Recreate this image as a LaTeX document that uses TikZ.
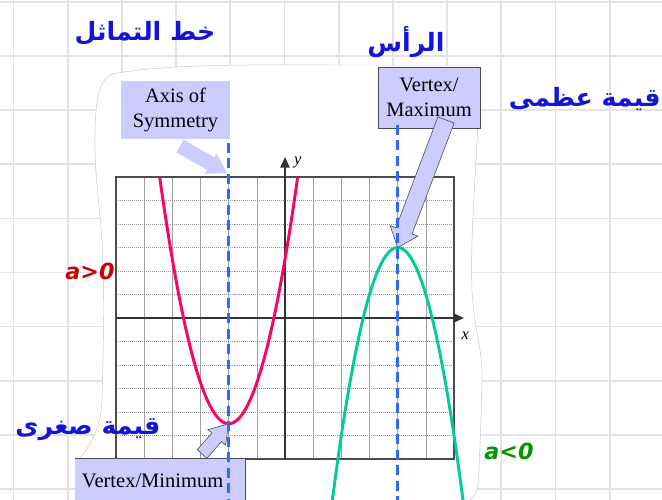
\documentclass[tikz,border=0pt]{standalone}
\usepackage{fontspec}
\setmainfont{Liberation Serif}
\newfontfamily\arabicfont[Script=Arabic]{DejaVu Sans}
\newfontfamily\handfont{DejaVu Sans}
\TeXXeTstate=1
\usetikzlibrary{calc,arrows.meta}

\definecolor{lav}{RGB}{204,204,255}
\definecolor{symblue}{RGB}{51,102,255}
\definecolor{upred}{RGB}{255,0,102}
\definecolor{downgreen}{RGB}{0,204,153}
\definecolor{arblue}{RGB}{20,20,215}
\definecolor{handred}{RGB}{200,0,0}
\definecolor{handgreen}{RGB}{0,150,0}

% #1 style, #2 tail, #3 tip, #4 shaft half width, #5 head half width, #6 head length
\newcommand{\fatarrow}[6]{%
  \coordinate (fa-h) at ($(#3)!#6!(#2)$);
  \path[#1] ($(#2)!#4!90:(#3)$) -- ($(fa-h)!#4!-90:(#2)$) -- ($(fa-h)!#5!-90:(#2)$)
    -- (#3) -- ($(fa-h)!#5!90:(#2)$) -- ($(fa-h)!#4!90:(#2)$)
    -- ($(#2)!#4!-90:(#3)$) -- cycle;}

\begin{document}
\begin{tikzpicture}[x=0.03cm,y=-0.03cm,
  bggrid/.style={line width=1.4pt,gray!22},
  paper/.style={fill=white,draw=gray!45,line width=0.4pt},
  gridv/.style={gray!75,line width=0.5pt},
  gridh/.style={gray!85,line width=0.6pt,dash pattern=on 0.8pt off 0.9pt},
  frame/.style={black!70,line width=1pt},
  axis/.style={black!80,line width=1pt,-{Triangle[length=9pt,width=8pt]}},
  callout/.style={fill=lav,font=\fontsize{17.5}{21}\selectfont,align=center,inner sep=0pt},
  fatfill/.style={fill=lav,draw=black!70,line width=0.5pt},
  symline/.style={symblue,line width=2.6pt,dash pattern=on 8.5pt off 4.7pt},
  upcurve/.style={upred,line width=2.5pt},
  downcurve/.style={downgreen,line width=2.5pt},
  arlabel/.style={text=arblue,font=\arabicfont\bfseries\fontsize{21.5}{25}\selectfont},
  hand/.style={font=\handfont\bfseries\itshape\fontsize{19}{22}\selectfont}]
  \useasboundingbox (0,0) rectangle (662,500);

  \foreach \k in {0,...,12}
    \draw[bggrid] ({13.5+54.2*\k},0) -- ({13.5+54.2*\k},500);
  \foreach \k in {0,...,9}
    \draw[bggrid] (0,{2+54.1*\k}) -- (662,{2+54.1*\k});

  \path[paper] (112,74) .. controls (150,67) and (200,64) .. (331,65)
    -- (476,65) .. controls (481,68) and (480,90) .. (479,100)
    .. controls (477,160) and (470,230) .. (472,290)
    .. controls (474,330) and (483,350) .. (482,380)
    .. controls (481,430) and (479,470) .. (478,485)
    .. controls (477,495) and (470,500) .. (465,503)
    -- (75,503) -- (76,462)
    .. controls (88,450) and (101,430) .. (102,400)
    .. controls (104,330) and (104,280) .. (102,240)
    .. controls (99,200) and (94,170) .. (95,130)
    .. controls (96,95) and (100,80) .. (112,74) -- cycle;

  \begin{scope}[shift={(285,318)},x=0.845cm,y=0.705cm]
    \foreach \i in {-5,...,5}
      \draw[gridv] (\i,-6) -- (\i,6);
    \foreach \j in {-5,...,5}
      \draw[gridh] (-6,\j) -- (6,\j);
    \draw[frame] (-6,-6) rectangle (6,6);
    \draw[axis] (-6,0) -- (6.35,0);
    \draw[axis] (0,-6) -- (0,6.85);
    \node[font=\itshape\fontsize{14}{16}\selectfont] (xlabel) at (6.4,-0.75) {x};
    \node[font=\itshape\fontsize{14}{16}\selectfont] (ylabel) at (0.45,6.6) {y};

    \draw[upcurve] plot[domain=-4.45:0.45,samples=80] (\x,{1.75*(\x+2)^2-4.5});
    \draw[downcurve] plot[domain=1.62:6.38,samples=80] (\x,{-2*(\x-4)^2+3});

    \coordinate (minv) at (-2,-4.5);
    \coordinate (maxv) at (4,3);
  \end{scope}

  \node[callout,minimum width=3.27cm,minimum height=1.74cm] (axisbox) at (175.5,110)
    {Axis of\\Symmetry};
  \node[callout,draw=black!70,line width=0.5pt,minimum width=3.06cm,minimum height=1.83cm]
    (maxbox) at (429,97.5) {Vertex/\\Maximum};
  \node[callout,minimum width=5.1cm,minimum height=1.32cm,text width=4.68cm,align=left]
    (minbox) at (160,481) {Vertex/Minimum};
  \draw[black!70,line width=0.6pt] (minbox.north west) -- (minbox.north east)
    -- (minbox.south east);

  \coordinate (axistail) at (180,146);
  \coordinate (axistip) at (227,173);
  \coordinate (maxtail) at (446,120);
  \coordinate (mintail) at (202,454);
  \fatarrow{fill=lav}{axistail}{axistip}{6.2pt}{10pt}{16pt}
  \fatarrow{fatfill}{maxtail}{maxv}{7.4pt}{12.7pt}{15.2pt}
  \fatarrow{fatfill}{mintail}{minv}{5.5pt}{10pt}{15.4pt}

  \coordinate (symtop) at (228.7,143);
  \coordinate (symbot) at (228.7,505);
  \coordinate (vertop) at (397.7,125);
  \coordinate (verbot) at (397.7,505);
  \draw[symline] (symtop) -- (symbot);
  \draw[symline] (vertop) -- (verbot);

  \node[arlabel] (symword) at (145,33) {\beginR خط التماثل\endR};
  \node[arlabel] (vertexword) at (406,42) {\beginR الرأس\endR};
  \node[arlabel,anchor=east,inner xsep=1pt] (maxword) at (662,99) {\beginR قيمة عظمى\endR};
  \node[arlabel] (minword) at (88,430) {\beginR قيمة صغرى\endR};

  \node[hand,text=handred] (apos) at (90,271) {a>0};
  \node[hand,text=handgreen] (aneg) at (509,451) {a<0};
\end{tikzpicture}
\end{document}
